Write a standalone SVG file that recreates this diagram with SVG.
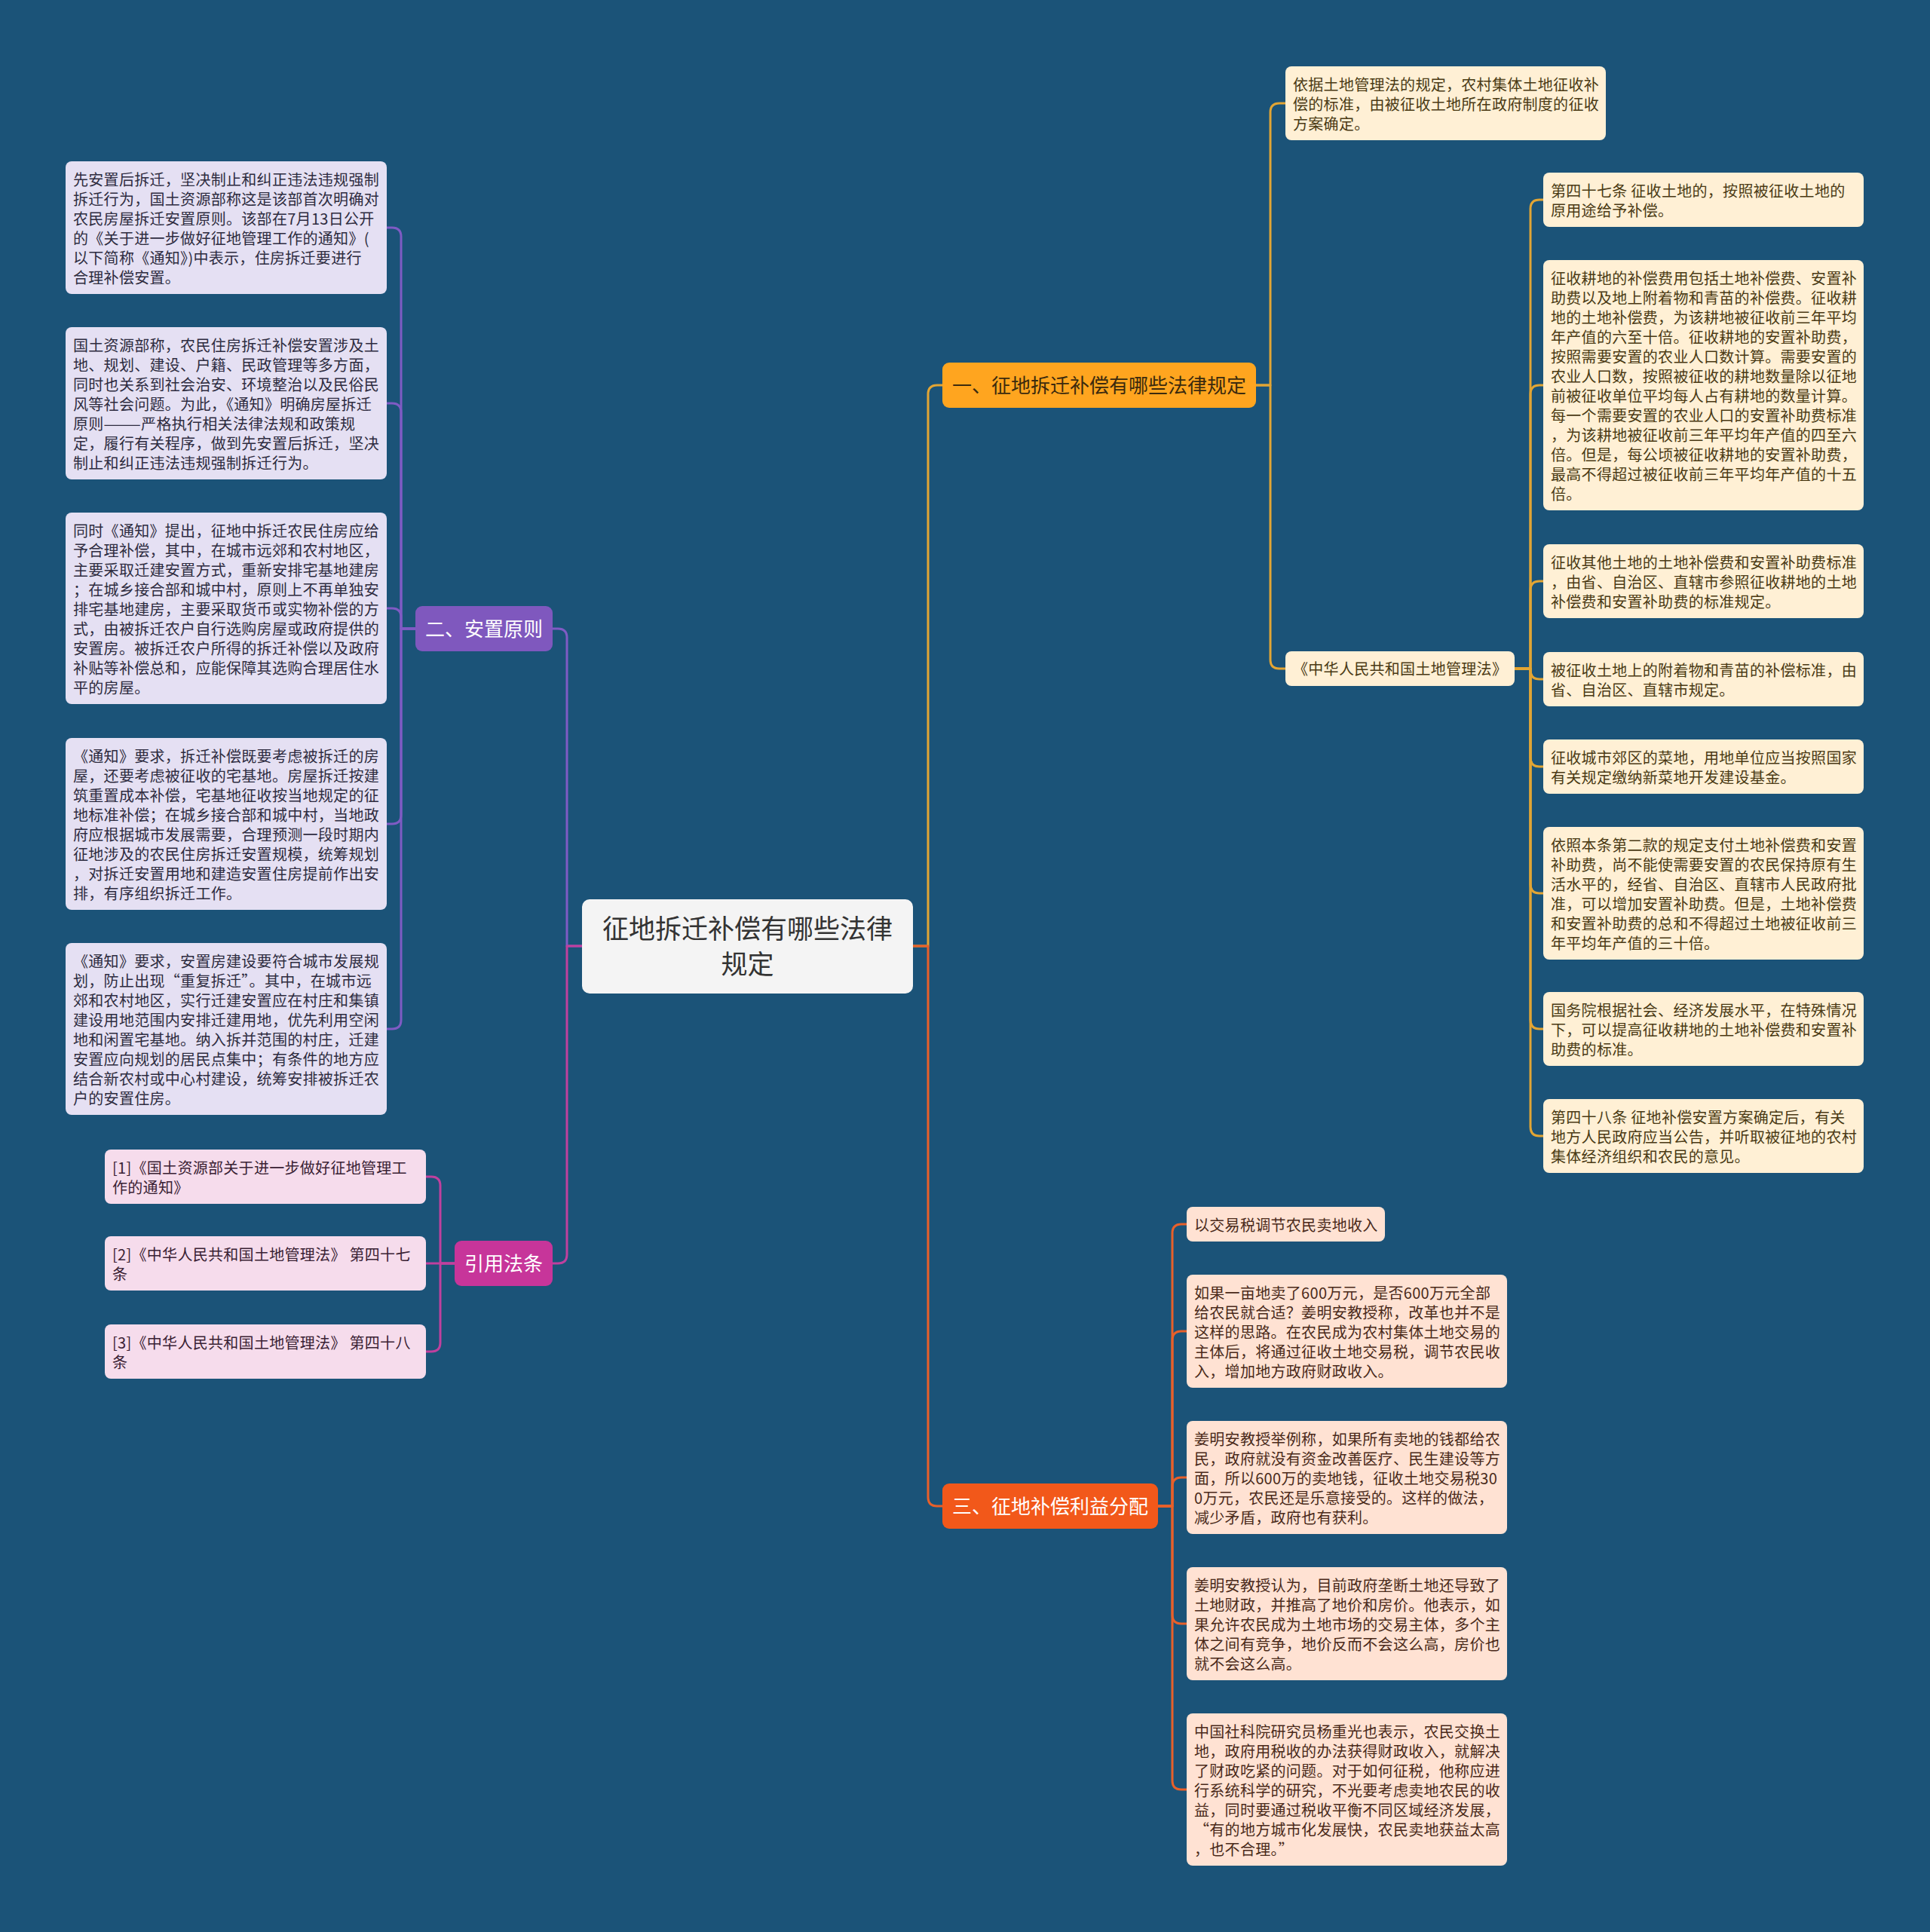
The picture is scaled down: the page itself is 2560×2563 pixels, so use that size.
<svg xmlns="http://www.w3.org/2000/svg" width="2560" height="2563" viewBox="0 0 2560 2563">
<style>
text{font-family:"Noto Sans CJK SC","Noto Sans",sans-serif;}
.lf{font-size:20px;letter-spacing:0.3px;}
.br{font-size:26px;}
.c{fill:none;stroke-width:3;stroke-linejoin:round;stroke-linecap:round;}
.g1{stroke:#E2A534;}
.g2{stroke:#7F5BC4;}
.g3{stroke:#C0409E;}
.g4{stroke:#E8602A;}
.f1{fill:#FFF0D5;}
.f2{fill:#E5E0F3;}
.f3{fill:#F6DCEC;}
.f4{fill:#FFE2D3;}
.x1{fill:#4A3A14;}
.x2{fill:#2E2C40;}
.x3{fill:#3A2234;}
.x4{fill:#4A2A1A;}
</style>
<rect x="0" y="0" width="2560" height="2563" fill="#1B5378"/>
<g id="connectors">
<path class="c g1" d="M1211,1255 H1231 V523 Q1231,511 1243,511 H1250"/>
<path class="c g1" d="M1666,511 H1685 V149 Q1685,137 1697,137 H1705"/>
<path class="c g1" d="M1666,511 H1685 V875 Q1685,887 1697,887 H1705"/>
<path class="c g1" d="M2009,887 H2030 V277 Q2030,265 2042,265 H2047"/>
<path class="c g1" d="M2009,887 H2030 V523 Q2030,511 2042,511 H2047"/>
<path class="c g1" d="M2009,887 H2030 V783 Q2030,771 2042,771 H2047"/>
<path class="c g1" d="M2009,887 H2030 V889 Q2030,901 2042,901 H2047"/>
<path class="c g1" d="M2009,887 H2030 V1005 Q2030,1017 2042,1017 H2047"/>
<path class="c g1" d="M2009,887 H2030 V1173 Q2030,1185 2042,1185 H2047"/>
<path class="c g1" d="M2009,887 H2030 V1353 Q2030,1365 2042,1365 H2047"/>
<path class="c g1" d="M2009,887 H2030 V1495 Q2030,1507 2042,1507 H2047"/>
<path class="c g4" d="M1211,1255 H1231 V1986 Q1231,1998 1243,1998 H1250"/>
<path class="c g4" d="M1536,1998 H1555 V1636 Q1555,1624 1567,1624 H1574"/>
<path class="c g4" d="M1536,1998 H1555 V1778 Q1555,1766 1567,1766 H1574"/>
<path class="c g4" d="M1536,1998 H1555 V1972 Q1555,1960 1567,1960 H1574"/>
<path class="c g4" d="M1536,1998 H1555 V2142 Q1555,2154 1567,2154 H1574"/>
<path class="c g4" d="M1536,1998 H1555 V2362 Q1555,2374 1567,2374 H1574"/>
<path class="c g2" d="M772,1255 H752 V846 Q752,834 740,834 H733"/>
<path class="c g2" d="M551,834 H532 V314 Q532,302 520,302 H513"/>
<path class="c g2" d="M551,834 H532 V547 Q532,535 520,535 H513"/>
<path class="c g2" d="M551,834 H532 V819 Q532,807 520,807 H513"/>
<path class="c g2" d="M551,834 H532 V1081 Q532,1093 520,1093 H513"/>
<path class="c g2" d="M551,834 H532 V1353 Q532,1365 520,1365 H513"/>
<path class="c g3" d="M772,1255 H752 V1664 Q752,1676 740,1676 H733"/>
<path class="c g3" d="M603,1676 H584 V1573 Q584,1561 572,1561 H565"/>
<path class="c g3" d="M603,1676 H565"/>
<path class="c g3" d="M603,1676 H584 V1781 Q584,1793 572,1793 H565"/>
</g>
<g id="center">
<rect x="772" y="1193" width="439" height="125" rx="10" fill="#F4F4F4"/>
<text x="991.5" y="1245" font-size="35" fill="#333333" text-anchor="middle">征地拆迁补偿有哪些法律</text>
<text x="991.5" y="1292" font-size="35" fill="#333333" text-anchor="middle">规定</text>
</g>
<g id="b1">
<rect x="1250" y="481" width="416" height="60" rx="9" fill="#FFA51F"/>
<text class="br" x="1263" y="521" fill="#3B2A0E">一、征地拆迁补偿有哪些法律规定</text>
</g>
<g id="b1-t1">
<rect x="1705" y="88" width="425" height="98" rx="8" class="f1"/>
<text class="lf x1"><tspan x="1715" y="120">依据土地管理法的规定，农村集体土地征收补</tspan><tspan x="1715" y="146">偿的标准，由被征收土地所在政府制度的征收</tspan><tspan x="1715" y="172">方案确定。</tspan></text>
</g>
<g id="b1-law">
<rect x="1705" y="864" width="304" height="46" rx="8" class="f1"/>
<text class="lf x1" x="1715" y="895">《中华人民共和国土地管理法》</text>
</g>
<g id="l1">
<rect x="2047" y="229" width="425" height="72" rx="8" class="f1"/>
<text class="lf x1"><tspan x="2057" y="261">第四十七条 征收土地的，按照被征收土地的</tspan><tspan x="2057" y="287">原用途给予补偿。</tspan></text>
</g>
<g id="l2">
<rect x="2047" y="345" width="425" height="332" rx="8" class="f1"/>
<text class="lf x1"><tspan x="2057" y="377">征收耕地的补偿费用包括土地补偿费、安置补</tspan><tspan x="2057" y="403">助费以及地上附着物和青苗的补偿费。征收耕</tspan><tspan x="2057" y="429">地的土地补偿费，为该耕地被征收前三年平均</tspan><tspan x="2057" y="455">年产值的六至十倍。征收耕地的安置补助费，</tspan><tspan x="2057" y="481">按照需要安置的农业人口数计算。需要安置的</tspan><tspan x="2057" y="507">农业人口数，按照被征收的耕地数量除以征地</tspan><tspan x="2057" y="533">前被征收单位平均每人占有耕地的数量计算。</tspan><tspan x="2057" y="559">每一个需要安置的农业人口的安置补助费标准</tspan><tspan x="2057" y="585">，为该耕地被征收前三年平均年产值的四至六</tspan><tspan x="2057" y="611">倍。但是，每公顷被征收耕地的安置补助费，</tspan><tspan x="2057" y="637">最高不得超过被征收前三年平均年产值的十五</tspan><tspan x="2057" y="663">倍。</tspan></text>
</g>
<g id="l3">
<rect x="2047" y="722" width="425" height="98" rx="8" class="f1"/>
<text class="lf x1"><tspan x="2057" y="754">征收其他土地的土地补偿费和安置补助费标准</tspan><tspan x="2057" y="780">，由省、自治区、直辖市参照征收耕地的土地</tspan><tspan x="2057" y="806">补偿费和安置补助费的标准规定。</tspan></text>
</g>
<g id="l4">
<rect x="2047" y="865" width="425" height="72" rx="8" class="f1"/>
<text class="lf x1"><tspan x="2057" y="897">被征收土地上的附着物和青苗的补偿标准，由</tspan><tspan x="2057" y="923">省、自治区、直辖市规定。</tspan></text>
</g>
<g id="l5">
<rect x="2047" y="981" width="425" height="72" rx="8" class="f1"/>
<text class="lf x1"><tspan x="2057" y="1013">征收城市郊区的菜地，用地单位应当按照国家</tspan><tspan x="2057" y="1039">有关规定缴纳新菜地开发建设基金。</tspan></text>
</g>
<g id="l6">
<rect x="2047" y="1097" width="425" height="176" rx="8" class="f1"/>
<text class="lf x1"><tspan x="2057" y="1129">依照本条第二款的规定支付土地补偿费和安置</tspan><tspan x="2057" y="1155">补助费，尚不能使需要安置的农民保持原有生</tspan><tspan x="2057" y="1181">活水平的，经省、自治区、直辖市人民政府批</tspan><tspan x="2057" y="1207">准，可以增加安置补助费。但是，土地补偿费</tspan><tspan x="2057" y="1233">和安置补助费的总和不得超过土地被征收前三</tspan><tspan x="2057" y="1259">年平均年产值的三十倍。</tspan></text>
</g>
<g id="l7">
<rect x="2047" y="1316" width="425" height="98" rx="8" class="f1"/>
<text class="lf x1"><tspan x="2057" y="1348">国务院根据社会、经济发展水平，在特殊情况</tspan><tspan x="2057" y="1374">下，可以提高征收耕地的土地补偿费和安置补</tspan><tspan x="2057" y="1400">助费的标准。</tspan></text>
</g>
<g id="l8">
<rect x="2047" y="1458" width="425" height="98" rx="8" class="f1"/>
<text class="lf x1"><tspan x="2057" y="1490">第四十八条 征地补偿安置方案确定后，有关</tspan><tspan x="2057" y="1516">地方人民政府应当公告，并听取被征地的农村</tspan><tspan x="2057" y="1542">集体经济组织和农民的意见。</tspan></text>
</g>
<g id="b2">
<rect x="551" y="804" width="182" height="60" rx="9" fill="#7F58BE"/>
<text class="br" x="564" y="844" fill="#FFFFFF">二、安置原则</text>
</g>
<g id="k1">
<rect x="87" y="214" width="426" height="176" rx="8" class="f2"/>
<text class="lf x2"><tspan x="97" y="246">先安置后拆迁，坚决制止和纠正违法违规强制</tspan><tspan x="97" y="272">拆迁行为，国土资源部称这是该部首次明确对</tspan><tspan x="97" y="298">农民房屋拆迁安置原则。该部在7月13日公开</tspan><tspan x="97" y="324">的《关于进一步做好征地管理工作的通知》(</tspan><tspan x="97" y="350">以下简称《通知》)中表示，住房拆迁要进行</tspan><tspan x="97" y="376">合理补偿安置。</tspan></text>
</g>
<g id="k2">
<rect x="87" y="434" width="426" height="202" rx="8" class="f2"/>
<text class="lf x2"><tspan x="97" y="466">国土资源部称，农民住房拆迁补偿安置涉及土</tspan><tspan x="97" y="492">地、规划、建设、户籍、民政管理等多方面，</tspan><tspan x="97" y="518">同时也关系到社会治安、环境整治以及民俗民</tspan><tspan x="97" y="544">风等社会问题。为此，《通知》明确房屋拆迁</tspan><tspan x="97" y="570">原则———严格执行相关法律法规和政策规</tspan><tspan x="97" y="596">定，履行有关程序，做到先安置后拆迁，坚决</tspan><tspan x="97" y="622">制止和纠正违法违规强制拆迁行为。</tspan></text>
</g>
<g id="k3">
<rect x="87" y="680" width="426" height="254" rx="8" class="f2"/>
<text class="lf x2"><tspan x="97" y="712">同时《通知》提出，征地中拆迁农民住房应给</tspan><tspan x="97" y="738">予合理补偿，其中，在城市远郊和农村地区，</tspan><tspan x="97" y="764">主要采取迁建安置方式，重新安排宅基地建房</tspan><tspan x="97" y="790">；在城乡接合部和城中村，原则上不再单独安</tspan><tspan x="97" y="816">排宅基地建房，主要采取货币或实物补偿的方</tspan><tspan x="97" y="842">式，由被拆迁农户自行选购房屋或政府提供的</tspan><tspan x="97" y="868">安置房。被拆迁农户所得的拆迁补偿以及政府</tspan><tspan x="97" y="894">补贴等补偿总和，应能保障其选购合理居住水</tspan><tspan x="97" y="920">平的房屋。</tspan></text>
</g>
<g id="k4">
<rect x="87" y="979" width="426" height="228" rx="8" class="f2"/>
<text class="lf x2"><tspan x="97" y="1011">《通知》要求，拆迁补偿既要考虑被拆迁的房</tspan><tspan x="97" y="1037">屋，还要考虑被征收的宅基地。房屋拆迁按建</tspan><tspan x="97" y="1063">筑重置成本补偿，宅基地征收按当地规定的征</tspan><tspan x="97" y="1089">地标准补偿；在城乡接合部和城中村，当地政</tspan><tspan x="97" y="1115">府应根据城市发展需要，合理预测一段时期内</tspan><tspan x="97" y="1141">征地涉及的农民住房拆迁安置规模，统筹规划</tspan><tspan x="97" y="1167">，对拆迁安置用地和建造安置住房提前作出安</tspan><tspan x="97" y="1193">排，有序组织拆迁工作。</tspan></text>
</g>
<g id="k5">
<rect x="87" y="1251" width="426" height="228" rx="8" class="f2"/>
<text class="lf x2"><tspan x="97" y="1283">《通知》要求，安置房建设要符合城市发展规</tspan><tspan x="97" y="1309">划，防止出现“重复拆迁”。其中，在城市远</tspan><tspan x="97" y="1335">郊和农村地区，实行迁建安置应在村庄和集镇</tspan><tspan x="97" y="1361">建设用地范围内安排迁建用地，优先利用空闲</tspan><tspan x="97" y="1387">地和闲置宅基地。纳入拆并范围的村庄，迁建</tspan><tspan x="97" y="1413">安置应向规划的居民点集中；有条件的地方应</tspan><tspan x="97" y="1439">结合新农村或中心村建设，统筹安排被拆迁农</tspan><tspan x="97" y="1465">户的安置住房。</tspan></text>
</g>
<g id="ref">
<rect x="603" y="1646" width="130" height="60" rx="9" fill="#C7359A"/>
<text class="br" x="616" y="1686" fill="#FFFFFF">引用法条</text>
</g>
<g id="r1">
<rect x="139" y="1525" width="426" height="72" rx="8" class="f3"/>
<text class="lf x3"><tspan x="149" y="1557">[1]《国土资源部关于进一步做好征地管理工</tspan><tspan x="149" y="1583">作的通知》</tspan></text>
</g>
<g id="r2">
<rect x="139" y="1640" width="426" height="72" rx="8" class="f3"/>
<text class="lf x3"><tspan x="149" y="1672">[2]《中华人民共和国土地管理法》 第四十七</tspan><tspan x="149" y="1698">条</tspan></text>
</g>
<g id="r3">
<rect x="139" y="1757" width="426" height="72" rx="8" class="f3"/>
<text class="lf x3"><tspan x="149" y="1789">[3]《中华人民共和国土地管理法》 第四十八</tspan><tspan x="149" y="1815">条</tspan></text>
</g>
<g id="b3">
<rect x="1250" y="1968" width="286" height="60" rx="9" fill="#F2581A"/>
<text class="br" x="1263" y="2008" fill="#FFFFFF">三、征地补偿利益分配</text>
</g>
<g id="c1">
<rect x="1574" y="1601" width="263" height="46" rx="8" class="f4"/>
<text class="lf x4" x="1584" y="1633">以交易税调节农民卖地收入</text>
</g>
<g id="c2">
<rect x="1574" y="1691" width="425" height="150" rx="8" class="f4"/>
<text class="lf x4"><tspan x="1584" y="1723">如果一亩地卖了600万元，是否600万元全部</tspan><tspan x="1584" y="1749">给农民就合适？姜明安教授称，改革也并不是</tspan><tspan x="1584" y="1775">这样的思路。在农民成为农村集体土地交易的</tspan><tspan x="1584" y="1801">主体后，将通过征收土地交易税，调节农民收</tspan><tspan x="1584" y="1827">入，增加地方政府财政收入。</tspan></text>
</g>
<g id="c3">
<rect x="1574" y="1885" width="425" height="150" rx="8" class="f4"/>
<text class="lf x4"><tspan x="1584" y="1917">姜明安教授举例称，如果所有卖地的钱都给农</tspan><tspan x="1584" y="1943">民，政府就没有资金改善医疗、民生建设等方</tspan><tspan x="1584" y="1969">面，所以600万的卖地钱，征收土地交易税30</tspan><tspan x="1584" y="1995">0万元，农民还是乐意接受的。这样的做法，</tspan><tspan x="1584" y="2021">减少矛盾，政府也有获利。</tspan></text>
</g>
<g id="c4">
<rect x="1574" y="2079" width="425" height="150" rx="8" class="f4"/>
<text class="lf x4"><tspan x="1584" y="2111">姜明安教授认为，目前政府垄断土地还导致了</tspan><tspan x="1584" y="2137">土地财政，并推高了地价和房价。他表示，如</tspan><tspan x="1584" y="2163">果允许农民成为土地市场的交易主体，多个主</tspan><tspan x="1584" y="2189">体之间有竞争，地价反而不会这么高，房价也</tspan><tspan x="1584" y="2215">就不会这么高。</tspan></text>
</g>
<g id="c5">
<rect x="1574" y="2273" width="425" height="202" rx="8" class="f4"/>
<text class="lf x4"><tspan x="1584" y="2305">中国社科院研究员杨重光也表示，农民交换土</tspan><tspan x="1584" y="2331">地，政府用税收的办法获得财政收入，就解决</tspan><tspan x="1584" y="2357">了财政吃紧的问题。对于如何征税，他称应进</tspan><tspan x="1584" y="2383">行系统科学的研究，不光要考虑卖地农民的收</tspan><tspan x="1584" y="2409">益，同时要通过税收平衡不同区域经济发展，</tspan><tspan x="1584" y="2435">“有的地方城市化发展快，农民卖地获益太高</tspan><tspan x="1584" y="2461">，也不合理。”</tspan></text>
</g>
</svg>
